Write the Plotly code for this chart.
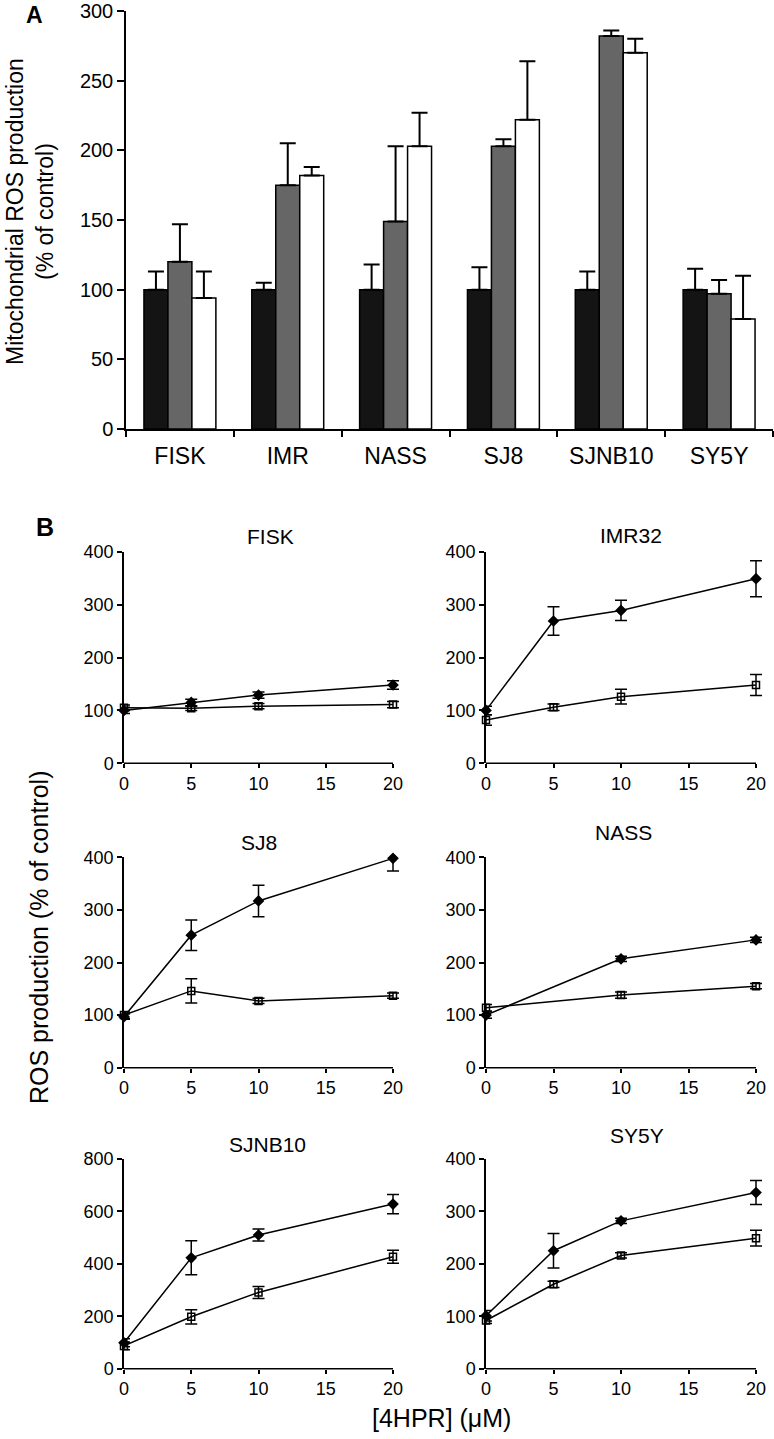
import plotly.graph_objects as go

# ---------------- Panel A data ----------------
cell_lines_A = ["FISK", "IMR", "NASS", "SJ8", "SJNB10", "SY5Y"]
ros_ctrl = [100, 100, 100, 100, 100, 100]
ros_ctrl_err = [13, 5, 18, 16, 13, 15]
ros_mid = [120, 175, 149, 203, 282, 97]
ros_mid_err = [27, 30, 54, 5, 4, 10]
ros_high = [94, 182, 203, 222, 270, 79]
ros_high_err = [19, 6, 24, 42, 10, 31]
zeros_A = [0, 0, 0, 0, 0, 0]

# ---------------- Panel B data ----------------
conc = [0, 5, 10, 20]
conc_nass = [0, 10, 20]
x_ticks_B = [0, 5, 10, 15, 20]

fisk_dia = [100, 115, 129, 148]
fisk_dia_err = [6, 6, 6, 8]
fisk_sq = [105, 104, 108, 111]
fisk_sq_err = [5, 4, 5, 6]

imr_dia = [100, 269, 289, 349]
imr_dia_err = [8, 27, 19, 34]
imr_sq = [82, 106, 126, 148]
imr_sq_err = [10, 6, 14, 20]

sj8_dia = [97, 252, 317, 398]
sj8_dia_err = [5, 29, 30, 24]
sj8_sq = [100, 146, 127, 137]
sj8_sq_err = [6, 23, 5, 5]

nass_dia = [100, 207, 243]
nass_dia_err = [6, 5, 5]
nass_sq = [114, 138, 155]
nass_sq_err = [6, 6, 5]

sjnb_dia = [99, 423, 510, 628]
sjnb_dia_err = [15, 65, 23, 37]
sjnb_sq = [87, 198, 291, 427]
sjnb_sq_err = [15, 27, 23, 25]

sy5y_dia = [101, 225, 282, 336]
sy5y_dia_err = [10, 33, 5, 23]
sy5y_sq = [92, 161, 216, 249]
sy5y_sq_err = [6, 6, 5, 15]

FONT = "Arial, 'Liberation Sans', sans-serif"
W, H = 774, 1439

def px(x):
    return x / W

def py(y):
    return 1 - y / H

fig = go.Figure()

# ---- Panel A bars ----
bar_specs = [
    ("Control", ros_ctrl, ros_ctrl_err, "#141414"),
    ("Treatment 1", ros_mid, ros_mid_err, "#666666"),
    ("Treatment 2", ros_high, ros_high_err, "#ffffff"),
]
for name, vals, errs, col in bar_specs:
    fig.add_trace(go.Bar(
        x=cell_lines_A, y=vals, name=name,
        marker=dict(color=col, line=dict(color="black", width=1.5)),
        error_y=dict(type="data", symmetric=False, array=errs, arrayminus=zeros_A,
                     color="black", thickness=2, width=8),
        xaxis="x", yaxis="y", showlegend=False,
    ))

# ---- Panel B lines ----
panels = [
    ("FISK", conc, fisk_dia, fisk_dia_err, fisk_sq, fisk_sq_err, 2),
    ("IMR32", conc, imr_dia, imr_dia_err, imr_sq, imr_sq_err, 3),
    ("SJ8", conc, sj8_dia, sj8_dia_err, sj8_sq, sj8_sq_err, 4),
    ("NASS", conc_nass, nass_dia, nass_dia_err, nass_sq, nass_sq_err, 5),
    ("SJNB10", conc, sjnb_dia, sjnb_dia_err, sjnb_sq, sjnb_sq_err, 6),
    ("SY5Y", conc, sy5y_dia, sy5y_dia_err, sy5y_sq, sy5y_sq_err, 7),
]
for title, xs, dia, dia_e, sq, sq_e, k in panels:
    fig.add_trace(go.Scatter(
        x=xs, y=sq, mode="lines+markers", name=title + " open",
        line=dict(color="black", width=1.5),
        marker=dict(symbol="square-open", size=7, color="black", line=dict(width=1.5, color="black")),
        error_y=dict(type="data", array=sq_e, color="black", thickness=1.5, width=6),
        xaxis="x%d" % k, yaxis="y%d" % k, showlegend=False, cliponaxis=False,
    ))
    fig.add_trace(go.Scatter(
        x=xs, y=dia, mode="lines+markers", name=title + " filled",
        line=dict(color="black", width=1.5),
        marker=dict(symbol="diamond", size=9, color="black"),
        error_y=dict(type="data", array=dia_e, color="black", thickness=1.5, width=6),
        xaxis="x%d" % k, yaxis="y%d" % k, showlegend=False, cliponaxis=False,
    ))

axis_common = dict(showline=True, linecolor="black", linewidth=1.5, ticks="outside",
                   tickcolor="black", tickwidth=1.5, showgrid=False, zeroline=False,
                   fixedrange=True, automargin=False)

layout = dict(
    width=W, height=H, margin=dict(l=0, r=0, t=0, b=0),
    paper_bgcolor="white", plot_bgcolor="white",
    font=dict(family=FONT, color="black"),
    barmode="group", bargap=0.333, bargroupgap=0,
    showlegend=False,
    xaxis=dict(axis_common, domain=[px(126), px(773)], anchor="y", type="category",
               range=[-0.5, 5.5], tickson="boundaries", ticklen=6,
               tickfont=dict(size=23, family=FONT), ticklabelstandoff=6),
    yaxis=dict(axis_common, domain=[py(429), py(11)], anchor="x", range=[0, 300],
               dtick=50, ticklen=7, tickfont=dict(size=20, family=FONT),
               ticklabeloverflow="allow"),
)

# x range padded a little so end-point error bars are not clipped;
# the visible x axis line is drawn only from 0 to 20.
col_left = [124, 486]
col_w20 = [393 - 124, 756 - 486]
col_right = [400, 766]
col_x = [[px(col_left[c]), px(col_right[c])] for c in range(2)]
col_xmax = [20 * (col_right[c] - col_left[c]) / col_w20[c] for c in range(2)]
row_y = [[py(763.3), py(551.7)], [py(1067.7), py(857.3)], [py(1368.7), py(1159)]]
shapes = []
for i, (title, xs, dia, dia_e, sq, sq_e, k) in enumerate(panels):
    r, c = divmod(i, 2)
    ymax = 800 if title == "SJNB10" else 400
    xa = dict(axis_common, domain=col_x[c], anchor="y%d" % k,
              range=[0, col_xmax[c]], tickvals=x_ticks_B, ticklen=4,
              tickfont=dict(size=18, family=FONT))
    xa["showline"] = False
    layout["xaxis%d" % k] = xa
    layout["yaxis%d" % k] = dict(axis_common, domain=row_y[r], anchor="x%d" % k,
                                 range=[0, ymax], dtick=ymax / 4, ticklen=5,
                                 tickfont=dict(size=18, family=FONT))
    shapes.append(dict(type="line", xref="x%d" % k, yref="y%d domain" % k,
                       x0=x_ticks_B[0], x1=x_ticks_B[-1], y0=0, y1=0,
                       line=dict(color="black", width=1.5)))

layout["shapes"] = shapes
fig.update_layout(**layout)

ann = []
title_pos = {"FISK": (270, 536), "IMR32": (631, 535), "SJ8": (259, 843),
             "NASS": (623, 832), "SJNB10": (267, 1144), "SY5Y": (637, 1135)}
for t, (x, y) in title_pos.items():
    ann.append(dict(text=t, x=px(x), y=py(y), xref="paper", yref="paper",
                    xanchor="center", yanchor="middle", showarrow=False,
                    font=dict(size=21, family=FONT)))
ann.append(dict(text="<b>A</b>", x=px(34), y=py(15), xref="paper", yref="paper",
                xanchor="center", yanchor="middle", showarrow=False,
                font=dict(size=23, family=FONT)))
ann.append(dict(text="<b>B</b>", x=px(45), y=py(527), xref="paper", yref="paper",
                xanchor="center", yanchor="middle", showarrow=False,
                font=dict(size=25, family=FONT)))
ann.append(dict(text="Mitochondrial ROS production<br>(% of control)", x=px(0), y=py(212),
                xref="paper", yref="paper", xanchor="left", yanchor="middle",
                textangle=-90, showarrow=False, font=dict(size=23, family=FONT)))
ann.append(dict(text="ROS production (% of control)", x=px(39), y=py(938),
                xref="paper", yref="paper", xanchor="center", yanchor="middle",
                textangle=-90, showarrow=False, font=dict(size=25, family=FONT)))
ann.append(dict(text="[4HPR] (μM)", x=px(441), y=py(1418),
                xref="paper", yref="paper", xanchor="center", yanchor="middle",
                showarrow=False, font=dict(size=25, family=FONT)))
fig.update_layout(annotations=ann)

# remove the default page margin so the figure sits at the page origin
fig.write_html("out.html", config={"displayModeBar": False},
               post_script="document.body.style.margin='0';")
